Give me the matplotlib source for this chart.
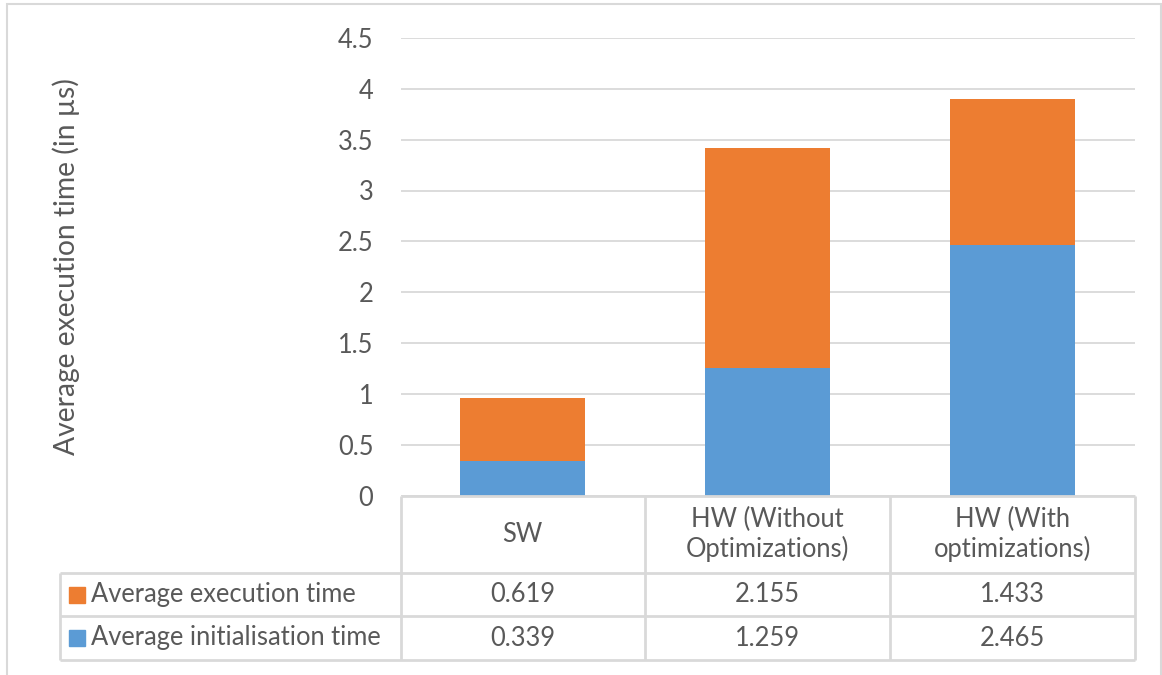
import matplotlib
matplotlib.use("Agg")
import matplotlib.pyplot as plt
from matplotlib.lines import Line2D
from matplotlib.patches import Rectangle
import numpy as np

plt.rcParams['font.family'] = ['Lato', 'DejaVu Sans']

categories = ["SW", "HW (Without\nOptimizations)", "HW (With\noptimizations)"]
init_time = [0.339, 1.259, 2.465]
exec_time = [0.619, 2.155, 1.433]
init_labels = ["0.339", "1.259", "2.465"]
exec_labels = ["0.619", "2.155", "1.433"]
series_names = ["Average execution time", "Average initialisation time"]
yticks = [0, 0.5, 1, 1.5, 2, 2.5, 3, 3.5, 4, 4.5]
ytick_labels = ["0", "0.5", "1", "1.5", "2", "2.5", "3", "3.5", "4", "4.5"]
ylabel = "Average execution time (in µs)"

BLUE = "#5B9BD5"
ORANGE = "#ED7D31"
GRID = "#D9D9D9"
TXT = "#595959"

W, H = 1162, 675
fig = plt.figure(figsize=(W / 100, H / 100), dpi=100)

def fx(px):
    return px / W

def fy(py):
    return 1 - py / H

FS = 18.4

# axes area
ax_l, ax_r, ax_t, ax_b = 400.5, 1135, 38, 495.5
ax = fig.add_axes([fx(ax_l), fy(ax_b), fx(ax_r) - fx(ax_l), fy(ax_t) - fy(ax_b)])
x = np.arange(len(categories))
bw = 0.51
ax.bar(x, init_time, bw, color=BLUE, zorder=3)
ax.bar(x, exec_time, bw, bottom=init_time, color=ORANGE, zorder=3)
ax.set_xlim(-0.5, len(categories) - 0.5)
ax.set_ylim(0, 4.5)
ax.set_yticks(yticks)
ax.set_yticklabels(ytick_labels)
ax.tick_params(axis='y', length=0, pad=19.5, labelsize=FS, labelcolor=TXT)
ax.set_xticks([])
ax.grid(axis='y', color=GRID, linewidth=1.3, zorder=0)
for s in ax.spines.values():
    s.set_visible(False)

fig.text(fx(66.5), fy(267), ylabel, rotation=90, ha='center', va='center',
         fontsize=20.3, color=TXT)

# table lines
def hline(y, x0, x1):
    fig.add_artist(Line2D([fx(x0), fx(x1)], [fy(y), fy(y)], color=GRID, lw=2,
                          transform=fig.transFigure, solid_capstyle='butt'))

def vline(xp, y0, y1):
    fig.add_artist(Line2D([fx(xp), fx(xp)], [fy(y0), fy(y1)], color=GRID, lw=2,
                          transform=fig.transFigure, solid_capstyle='butt'))

col_edges = [400.5, 645, 890, 1135]
row_top = 495.5
row_hdr = 573
row_1 = 616
row_2 = 660
tab_left = 59.5

hline(row_top, col_edges[0], col_edges[-1])
hline(row_hdr, tab_left, col_edges[-1])
hline(row_1, tab_left, col_edges[-1])
hline(row_2, tab_left, col_edges[-1])
vline(tab_left, row_hdr, row_2)
for c in col_edges:
    vline(c, row_top, row_2)

for i, cat in enumerate(categories):
    cx = (col_edges[i] + col_edges[i + 1]) / 2
    fig.text(fx(cx), fy((row_top + row_hdr) / 2), cat, ha='center', va='center',
             fontsize=FS, color=TXT, linespacing=1.2)
    fig.text(fx(cx), fy((row_hdr + row_1) / 2), exec_labels[i], ha='center', va='center',
             fontsize=FS, color=TXT)
    fig.text(fx(cx), fy((row_1 + row_2) / 2), init_labels[i], ha='center', va='center',
             fontsize=FS, color=TXT)

for (name, col, y0, y1) in [(series_names[0], ORANGE, row_hdr, row_1),
                            (series_names[1], BLUE, row_1, row_2)]:
    yc = (y0 + y1) / 2
    fig.add_artist(Rectangle((fx(69), fy(yc + 8)), fx(16), fy(0) - fy(16), color=col,
                             transform=fig.transFigure))
    fig.text(fx(91), fy(yc), name, ha='left', va='center', fontsize=FS, color=TXT)

# outer border
fig.add_artist(Rectangle((fx(7), fy(690)), fx(1154), fy(4) - fy(690), fill=False,
                         edgecolor=GRID, lw=1.5, transform=fig.transFigure))

fig.savefig("out.png", dpi=100, facecolor="white")
